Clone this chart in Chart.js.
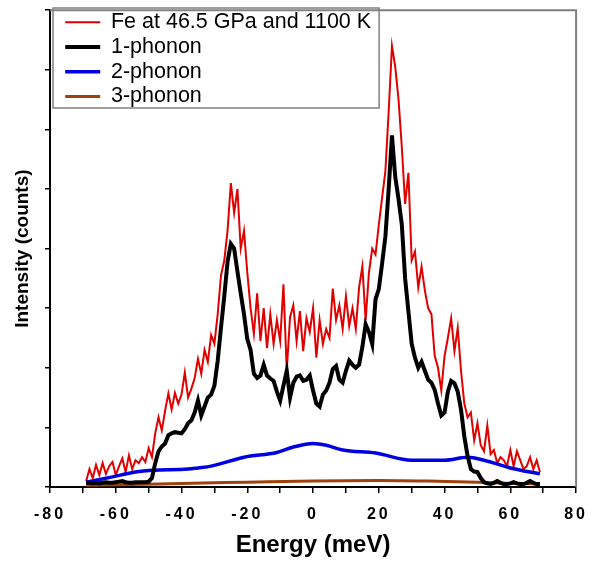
<!DOCTYPE html>
<html>
<head>
<meta charset="utf-8">
<script src="https://cdn.jsdelivr.net/npm/chart.js@4.4.1/dist/chart.umd.min.js"></script>
<style>
  html, body { margin: 0; padding: 0; background: #fff; }
  #wrap { width: 597px; height: 563px; }
</style>
</head>
<body>
<div id="wrap"><canvas id="phononChart"></canvas></div>
<script>
// Energy grid of the measured spectrum (meV)
const energy = [
  -69, -68, -67, -66, -65, -64, -63, -62, -61, -60, -59, -58, -57, -56, -55, -54, -53, -52, -51, -50,
  -49, -48, -47, -46, -45, -44, -43, -42, -41, -40, -39, -38, -37, -36, -35, -34, -33, -32, -31, -30,
  -29, -28, -27, -26, -25, -24, -23, -22, -21, -20, -19, -18, -17, -16, -15, -14, -13, -12, -11, -10,
  -9, -8, -7, -6, -5, -4, -3, -2, -1, 0, 1, 2, 3, 4, 5, 6, 7, 8, 9, 10,
  11, 12, 13, 14, 15, 16, 17, 18, 19, 20, 21, 22, 23, 24, 25, 26, 27, 28, 29, 30,
  31, 32, 33, 34, 35, 36, 37, 38, 39, 40, 41, 42, 43, 44, 45, 46, 47, 48, 49, 50,
  51, 52, 53, 54, 55, 56, 57, 58, 59, 60, 61, 62, 63, 64, 65, 66, 67, 68, 69
];

// Fe at 46.5 GPa and 1100 K (red, noisy data)
const measured = [
  0.10, 0.30, 0.15, 0.37, 0.20, 0.40, 0.22, 0.35, 0.42, 0.20, 0.35, 0.48, 0.25, 0.53, 0.30, 0.45, 0.40, 0.50, 0.42, 0.65,
  0.50, 0.90, 1.17, 0.95, 1.28, 1.57, 1.30, 1.58, 1.40, 1.55, 1.92, 1.50, 1.65, 1.83, 2.15, 1.90, 2.30, 2.10, 2.55, 2.40,
  2.90, 3.55, 3.80, 4.30, 5.10, 4.60, 5.00, 4.00, 4.30, 3.60, 3.00, 2.57, 3.25, 2.45, 3.00, 2.33, 2.90, 2.40, 2.80, 2.45,
  3.40, 1.95, 2.85, 3.05, 2.45, 2.95, 2.28, 2.83, 2.60, 3.00, 2.17, 2.80, 2.40, 2.65, 2.50, 3.33, 2.80, 3.05, 2.65, 3.20,
  2.70, 3.00, 2.65, 3.35, 3.70, 2.80, 3.60, 4.00, 3.90, 4.40, 4.85, 5.30, 6.30, 7.40, 7.05, 6.50, 5.70, 4.75, 5.27, 3.80,
  3.95, 3.35, 3.70, 3.30, 3.00, 2.90, 2.20, 2.00, 1.62, 2.20, 2.50, 2.83, 2.28, 2.67, 1.95, 1.40, 1.17, 1.25, 0.78, 1.07,
  0.70, 0.60, 1.03, 0.55, 0.62, 0.40, 0.50, 0.45, 0.35, 0.62, 0.35, 0.60, 0.45, 0.30, 0.35, 0.50, 0.30, 0.45, 0.25
];

// 1-phonon contribution (black)
const onePhonon = [
  0.07, 0.07, 0.06, 0.07, 0.06, 0.07, 0.08, 0.07, 0.07, 0.08, 0.09, 0.10, 0.08, 0.07, 0.07, 0.08, 0.08, 0.08, 0.08, 0.09,
  0.15, 0.40, 0.60, 0.68, 0.73, 0.87, 0.90, 0.92, 0.91, 0.90, 0.97, 1.07, 1.12, 1.25, 1.45, 1.20, 1.35, 1.50, 1.55, 1.70,
  2.12, 2.67, 3.20, 3.78, 4.08, 4.00, 3.62, 3.25, 2.90, 2.48, 2.30, 1.90, 1.83, 1.87, 2.05, 1.87, 1.82, 1.78, 1.60, 1.45,
  1.70, 1.95, 1.50, 1.75, 1.85, 1.87, 1.78, 1.80, 1.87, 1.62, 1.40, 1.35, 1.55, 1.62, 1.75, 1.98, 2.03, 1.80, 1.75, 1.95,
  2.12, 2.05, 2.00, 2.05, 2.35, 2.73, 2.60, 2.40, 3.15, 3.32, 3.75, 4.20, 5.00, 5.90, 5.20, 4.83, 4.40, 3.50, 2.95, 2.40,
  2.17, 2.00, 2.10, 1.95, 1.80, 1.75, 1.63, 1.40, 1.20, 1.25, 1.60, 1.78, 1.74, 1.60, 1.30, 0.85, 0.52, 0.30, 0.26, 0.25,
  0.15, 0.08, 0.06, 0.05, 0.07, 0.10, 0.07, 0.05, 0.05, 0.06, 0.08, 0.06, 0.05, 0.05, 0.07, 0.10, 0.07, 0.05, 0.05
];

// 2-phonon contribution (blue)
const twoPhononEnergy = [-69, -61, -54, -49, -38, -35, -31, -21, -11, -6, 0, 4, 9, 19, 30, 40, 47, 52, 60, 69];
const twoPhonon = [0.08, 0.17, 0.25, 0.28, 0.30, 0.32, 0.35, 0.50, 0.58, 0.67, 0.73, 0.70, 0.62, 0.57, 0.45, 0.45, 0.50, 0.45, 0.32, 0.22];

// 3-phonon contribution (brown)
const threePhononEnergy = [-69, -55, -40, -20, 0, 20, 35, 50, 60, 69];
const threePhonon = [0.03, 0.04, 0.06, 0.08, 0.10, 0.11, 0.10, 0.08, 0.06, 0.05];

const xTickLabels = [-80, -60, -40, -20, 0, 20, 40, 60, 80];

const FONT = "'Liberation Sans', Arial, sans-serif";
Chart.defaults.font.family = FONT;
Chart.defaults.color = '#000';

function toPoints(xs, ys) {
    return xs.map((x, i) => ({ x: x, y: ys[i] }));
}

// gray plot frame, legend box, spaced tick labels
const framePlugin = {
    id: 'framePlugin',
    afterLayout(chart) {
        chart.legend.left = 62;
        chart.legend.top = 8.4;
    },
    afterDatasetsDraw(chart) {
        chart.ctx.letterSpacing = '3px';
    },
    afterDraw(chart) {
        const ctx = chart.ctx;
        const a = chart.chartArea;
        ctx.letterSpacing = '0px';
        ctx.save();
        ctx.strokeStyle = '#808080';
        ctx.lineWidth = 2;
        ctx.beginPath();
        ctx.moveTo(a.left, a.top);
        ctx.lineTo(a.right, a.top);
        ctx.lineTo(a.right, a.bottom);
        ctx.stroke();

        const lg = chart.legend;
        const maxW = Math.max(...lg.legendHitBoxes.map(h => h.width));
        const right = lg.left + 3.2 + maxW + 8;
        ctx.lineWidth = 1.5;
        ctx.strokeRect(53, 8, right - 53, 100);
        ctx.restore();
    }
};

new Chart(document.getElementById('phononChart').getContext('2d'), {
    type: 'line',
    data: {
        datasets: [
            {
                label: 'Fe at 46.5 GPa and 1100 K',
                data: toPoints(energy, measured),
                borderColor: '#e00000',
                borderWidth: 2,
                pointRadius: 0,
                fill: false,
                order: 4,
            },
            {
                label: '1-phonon',
                data: toPoints(energy, onePhonon),
                borderColor: '#000000',
                borderWidth: 4,
                pointRadius: 0,
                fill: false,
                order: 1,
            },
            {
                label: '2-phonon',
                data: toPoints(twoPhononEnergy, twoPhonon),
                borderColor: '#0000e0',
                borderWidth: 3.5,
                pointRadius: 0,
                cubicInterpolationMode: 'monotone',
                fill: false,
                order: 2,
            },
            {
                label: '3-phonon',
                data: toPoints(threePhononEnergy, threePhonon),
                borderColor: '#a0400c',
                borderWidth: 3,
                pointRadius: 0,
                cubicInterpolationMode: 'monotone',
                fill: false,
                order: 3,
            },
        ],
    },
    options: {
        responsive: true,
        maintainAspectRatio: false,
        animation: false,
        layout: { padding: { top: 6, right: 14, left: 0, bottom: 0 } },
        plugins: {
            tooltip: { enabled: false },
            legend: {
                position: 'chartArea',
                align: 'start',
                labels: {
                    usePointStyle: true,
                    pointStyle: 'line',
                    pointStyleWidth: 35,
                    padding: 3.2,
                    color: '#000',
                    font: { size: 21.5 },
                    sort: (a, b) => a.datasetIndex - b.datasetIndex,
                },
            },
        },
        scales: {
            x: {
                type: 'linear',
                min: -80,
                max: 80,
                afterFit: (scale) => { scale.height = 76; },
                ticks: {
                    stepSize: 10,
                    z: 1,
                    padding: 12,
                    autoSkip: false,
                    maxRotation: 0,
                    color: '#000',
                    font: { size: 16, weight: 'bold' },
                    callback: (value) => xTickLabels.includes(value) ? String(value) : '',
                },
                grid: { drawOnChartArea: false, drawTicks: true, tickLength: 6, color: '#000', lineWidth: 1.5 },
                border: { color: '#000', width: 2 },
                title: {
                    display: true,
                    text: 'Energy (meV)',
                    color: '#000',
                    font: { size: 24, weight: 'bold' },
                    padding: { top: 0, bottom: 3.6 },
                },
            },
            y: {
                min: 0,
                max: 8,
                afterFit: (scale) => { scale.width = 50; },
                ticks: { stepSize: 1, callback: () => '' },
                grid: { drawOnChartArea: false, drawTicks: true, tickLength: 5, color: '#000', lineWidth: 1.5 },
                border: { color: '#000', width: 2 },
                title: {
                    display: true,
                    text: 'Intensity (counts)',
                    color: '#000',
                    font: { size: 19, weight: 'bold' },
                    padding: { top: 11, bottom: 0 },
                },
            },
        },
    },
    plugins: [framePlugin],
});
</script>
</body>
</html>
